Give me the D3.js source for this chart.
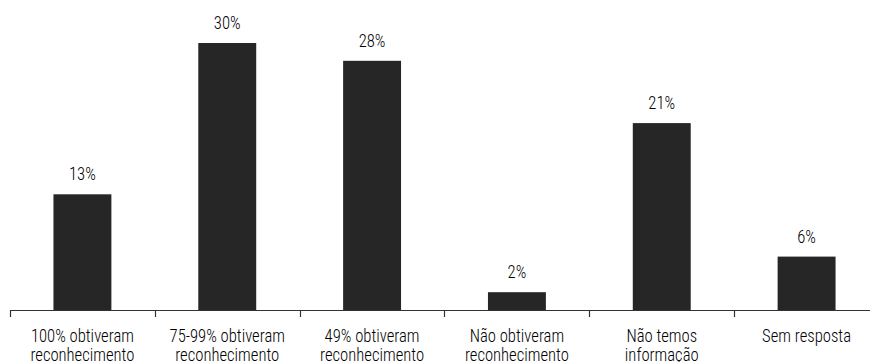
<!DOCTYPE html>
<html>
<head>
<meta charset="utf-8">
<script src="https://cdn.jsdelivr.net/npm/d3@7"></script>
<style>
  html, body { margin: 0; padding: 0; background: #fff; }
  svg text { font-family: "Roboto Condensed", "Liberation Sans Narrow", "Arial Narrow", sans-serif; font-weight: 350; fill: #000; }
</style>
</head>
<body>
<svg id="chart" width="870" height="362"></svg>
<script>
const categories = [
  ["100% obtiveram", "reconhecimento"],
  ["75-99% obtiveram", "reconhecimento"],
  ["49% obtiveram", "reconhecimento"],
  ["Não obtiveram", "reconhecimento"],
  ["Não temos", "informação"],
  ["Sem resposta"]
];
const values = [13, 30, 28, 2, 21, 6];
const valueLabels = ["13%", "30%", "28%", "2%", "21%", "6%"];

const fontSize = 18.5;
const squeeze = 0.9;   // narrower glyphs than the stock condensed face

const svg = d3.select("#chart");
const keys = categories.map((c, i) => i);

const x = d3.scaleBand().domain(keys).range([10, 879]).paddingInner(0.6).paddingOuter(0.3);
const y = d3.scaleLinear().domain([0, 30]).range([310, 43]);

// bars
svg.append("g").selectAll("rect").data(values).join("rect")
  .attr("x", (d, i) => x(i))
  .attr("y", d => y(d))
  .attr("width", x.bandwidth())
  .attr("height", d => y(0) - y(d))
  .attr("fill", "#262626");

// value labels
svg.append("g").selectAll("text").data(values).join("text")
  .attr("transform", (d, i) => `translate(${x(i) + x.bandwidth() / 2},${y(d) - 14}) scale(${squeeze},1)`)
  .attr("text-anchor", "middle")
  .attr("font-size", fontSize)
  .text((d, i) => valueLabels[i]);

// category axis with ticks between groups
const step = x.step();
const left = x(0) - x.paddingOuter() * step;
const boundaries = d3.range(categories.length + 1).map(i => left + i * step);
const axis = svg.append("g");
axis.append("line")
  .attr("x1", boundaries[0]).attr("x2", boundaries[boundaries.length - 1])
  .attr("y1", y(0) + 0.5).attr("y2", y(0) + 0.5)
  .attr("stroke", "#333").attr("stroke-width", 1.2);
axis.selectAll(".tick").data(boundaries).join("line")
  .attr("x1", d => Math.round(d) + 0.5).attr("x2", d => Math.round(d) + 0.5)
  .attr("y1", y(0)).attr("y2", y(0) + 7)
  .attr("stroke", "#333").attr("stroke-width", 1.2);

const labels = axis.selectAll(".cat").data(categories).join("text")
  .attr("text-anchor", "middle")
  .attr("font-size", fontSize)
  .attr("transform", (d, i) => `translate(${x(i) + x.bandwidth() / 2},342) scale(${squeeze},1)`);
labels.selectAll("tspan").data(d => d).join("tspan")
  .attr("x", 0)
  .attr("dy", (d, j) => j === 0 ? 0 : 19)
  .text(d => d);
</script>
</body>
</html>
